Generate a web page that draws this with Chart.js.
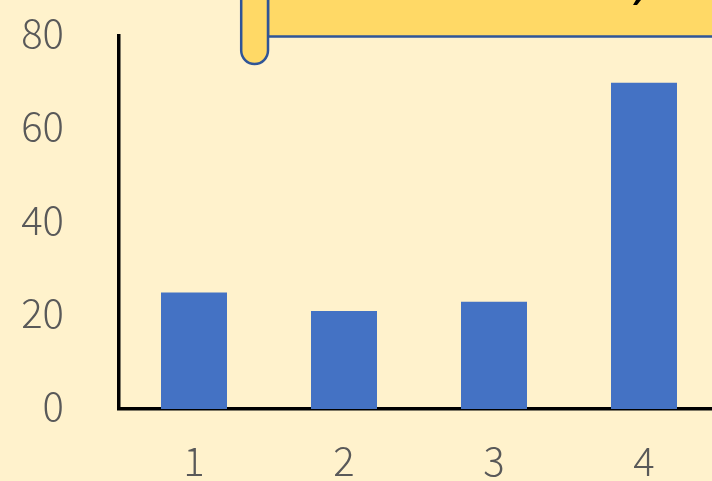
<!DOCTYPE html>
<html>
<head>
<meta charset="utf-8">
<script src="https://cdn.jsdelivr.net/npm/chart.js@4/dist/chart.umd.min.js"></script>
<style>
  html, body { margin: 0; padding: 0; overflow: hidden; background: #FFF2CC; }
  #wrap { width: 720px; height: 481px; }
</style>
</head>
<body>
<div id="wrap"><canvas id="myChart"></canvas></div>
<script>
'use strict';

// ******* DATA *******
let categories = ['1', '2', '3', '4'];
let values = [25, 21, 23, 70];
let yTicks = [0, 20, 40, 60, 80];

// ******* STYLE *******
let bgColor = '#FFF2CC';
let barColor = '#4472C4';
let labelColor = '#595959';
let bannerFill = '#FFD966';
let bannerLine = '#2F5597';
let tickFont = { family: '"Noto Sans CJK JP", "Noto Sans", sans-serif', size: 40, weight: 300 };

// background + banner drawn around the chart
let decoPlugin = {
  id: 'deco',
  beforeDraw(chart) {
    let ctx = chart.ctx;
    ctx.save();
    ctx.fillStyle = bgColor;
    ctx.fillRect(0, 0, chart.width, chart.height);
    ctx.restore();
  },
  afterDraw(chart) {
    let ctx = chart.ctx;
    ctx.save();
    ctx.lineWidth = 2.5;
    ctx.strokeStyle = bannerLine;
    ctx.fillStyle = bannerFill;

    // main banner body (runs off the top and right)
    ctx.beginPath();
    ctx.rect(268, -10, 470, 46.5);
    ctx.fill();
    ctx.stroke();

    // rolled-up left end
    let x0 = 241.2, x1 = 268, yb = 64, r = (x1 - x0) / 2;
    ctx.beginPath();
    ctx.moveTo(x0, -10);
    ctx.lineTo(x0, yb - r);
    ctx.arc(x0 + r, yb - r, r, Math.PI, 0, true);
    ctx.lineTo(x1, -10);
    ctx.fill();
    ctx.stroke();

    // bit of the title glyph peeking in
    ctx.fillStyle = '#000';
    ctx.beginPath();
    ctx.moveTo(636, 0);
    ctx.lineTo(641, 0);
    ctx.lineTo(637, 5);
    ctx.lineTo(633, 5);
    ctx.closePath();
    ctx.fill();
    ctx.restore();
  }
};

const ctx = document.getElementById('myChart').getContext('2d');
const myChart = new Chart(ctx, {
  type: 'bar',
  data: {
    labels: categories,
    datasets: [{
      data: values,
      backgroundColor: barColor,
      borderWidth: 0,
      categoryPercentage: 1,
      barPercentage: 0.44
    }]
  },
  options: {
    responsive: true,
    maintainAspectRatio: false,
    animation: false,
    layout: { padding: { top: 36, right: 1, bottom: 0, left: 0 } },
    plugins: {
      legend: { display: false },
      tooltip: { enabled: false }
    },
    scales: {
      x: {
        grid: { display: false },
        border: { display: true, color: '#000', width: 3.5 },
        ticks: { color: labelColor, font: tickFont, padding: 20, maxRotation: 0 },
        afterFit(scale) { scale.height = 72; }
      },
      y: {
        min: yTicks[0],
        max: yTicks[yTicks.length - 1],
        afterBuildTicks(scale) {
          scale.ticks = yTicks.map(v => ({ value: v }));
        },
        grid: { display: false },
        border: { display: true, color: '#000', width: 3.5 },
        ticks: { color: labelColor, font: tickFont, padding: 47, labelOffset: -3 },
        afterFit(scale) {
          scale.width = 119;
          scale.paddingTop = 0;
          scale.paddingBottom = 0;
        }
      }
    }
  },
  plugins: [decoPlugin]
});
</script>
</body>
</html>
